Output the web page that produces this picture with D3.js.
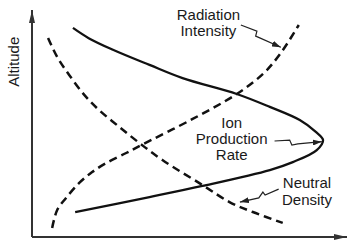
<!DOCTYPE html>
<html>
<head>
<meta charset="utf-8">
<script src="https://cdn.jsdelivr.net/npm/d3@7"></script>
<style>
  body { margin: 0; background: #fff; }
  svg { display: block; }
  text { font-family: "Liberation Sans", Arial, sans-serif; fill: #1a1a1a; }
</style>
</head>
<body>
<div id="chart"></div>
<script>
// schematic values: x = relative magnitude (0-100), alt = altitude (0-100)
var ionX = [13, 18, 25.5, 37.3, 47.8, 65, 75.5, 85, 90.1, 92.4, 90.4, 82.8, 75.5, 54.1, 37.3, 13.7];
var ionAlt = [92.1, 87.6, 82.6, 75.8, 70, 63, 57.3, 51.5, 46.3, 42.7, 38.3, 33, 29.5, 22.5, 17.6, 11];

var radX = [6.4, 8, 10.8, 15, 19.1, 23.6, 29.9, 34.7, 51, 65, 73.6, 79, 84.7];
var radAlt = [4, 11.9, 17.2, 23.8, 28.6, 32.6, 37, 40.5, 52, 63, 72.2, 81.1, 93.4];

var neutX = [5.1, 8, 11.8, 16.6, 21.3, 27.7, 34.1, 41.4, 54.1, 62.7, 70.1, 79.6];
var neutAlt = [87.7, 79.3, 71.4, 62.6, 55.9, 48.5, 41.4, 33.9, 22.9, 15.4, 11, 6.2];

var labels = [
  { lines: ["Radiation", "Intensity"], x: 56, alt: 95.8, step: 16 },
  { lines: ["Ion", "Production", "Rate"], x: 63.4, alt: 48, step: 16 },
  { lines: ["Neutral", "Density"], x: 87.3, alt: 21.6, step: 17 }
];

// label pointers (squiggle + arrow)
var pointers = [
  [[66.3, 93.4], [71.4, 90.7], [71, 88.5], [72.3, 87.7], [79, 83.6]],
  [[77, 42.3], [81.8, 42.7], [82.5, 40.5], [84.4, 41], [92, 42]],
  [[78.3, 21.1], [74, 18.5], [73.3, 19.8], [72, 17.2], [66, 15.4]]
];

var W = 354, H = 241;

var svg = d3
  .select("#chart")
  .append("svg")
  .attr("width", W)
  .attr("height", H);

var x = d3.scaleLinear().domain([0, 100]).range([32, 347]);
var y = d3.scaleLinear().domain([0, 100]).range([237, 10]);

var defs = svg.append("defs");
defs
  .append("marker")
  .attr("id", "axisHead")
  .attr("viewBox", "0 0 13 6")
  .attr("refX", 13)
  .attr("refY", 3)
  .attr("markerUnits", "userSpaceOnUse")
  .attr("markerWidth", 13)
  .attr("markerHeight", 6)
  .attr("orient", "auto")
  .append("path")
  .attr("d", "M0,0L13,3L0,6Z")
  .attr("fill", "#333");

defs
  .append("marker")
  .attr("id", "ptrHead")
  .attr("viewBox", "0 0 9 6")
  .attr("refX", 9)
  .attr("refY", 3)
  .attr("markerUnits", "userSpaceOnUse")
  .attr("markerWidth", 9)
  .attr("markerHeight", 6)
  .attr("orient", "auto")
  .append("path")
  .attr("d", "M0,0L9,3L0,6Z")
  .attr("fill", "#222");

// axes (no ticks, arrow ends)
svg
  .append("line")
  .attr("x1", x(0))
  .attr("y1", y(0))
  .attr("x2", x(0))
  .attr("y2", y(100))
  .attr("stroke", "#333")
  .attr("stroke-width", 2)
  .attr("marker-end", "url(#axisHead)");

svg
  .append("line")
  .attr("x1", x(0))
  .attr("y1", y(0))
  .attr("x2", x(100))
  .attr("y2", y(0))
  .attr("stroke", "#333")
  .attr("stroke-width", 2)
  .attr("marker-end", "url(#axisHead)");

svg
  .append("text")
  .attr("transform", "translate(19," + (y(0) + y(100)) / 4 + ") rotate(-90)")
  .attr("text-anchor", "middle")
  .style("font-size", "15px")
  .text("Altitude");

var line = d3
  .line()
  .x((d) => x(d[0]))
  .y((d) => y(d[1]))
  .curve(d3.curveCatmullRom.alpha(0.5));

function pairs(xs, ys) {
  return xs.map((v, i) => [v, ys[i]]);
}

svg
  .append("path")
  .datum(pairs(ionX, ionAlt))
  .attr("d", line)
  .attr("fill", "none")
  .attr("stroke", "#111")
  .attr("stroke-width", 2.3);

[pairs(radX, radAlt), pairs(neutX, neutAlt)].forEach(function (pts) {
  svg
    .append("path")
    .datum(pts)
    .attr("d", line)
    .attr("fill", "none")
    .attr("stroke", "#111")
    .attr("stroke-width", 2.5)
    .style("stroke-dasharray", "8,5");
});

var ptrLine = d3
  .line()
  .x((d) => x(d[0]))
  .y((d) => y(d[1]))
  .curve(d3.curveLinear);

pointers.forEach(function (p) {
  svg
    .append("path")
    .datum(p)
    .attr("d", ptrLine)
    .attr("fill", "none")
    .attr("stroke", "#222")
    .attr("stroke-width", 1.2)
    .attr("marker-end", "url(#ptrHead)");
});

labels.forEach(function (l) {
  var t = svg
    .append("text")
    .attr("text-anchor", "middle")
    .style("font-size", "15px");
  l.lines.forEach(function (s, i) {
    t.append("tspan")
      .attr("x", x(l.x))
      .attr("y", y(l.alt) + i * l.step)
      .text(s);
  });
});
</script>
</body>
</html>
